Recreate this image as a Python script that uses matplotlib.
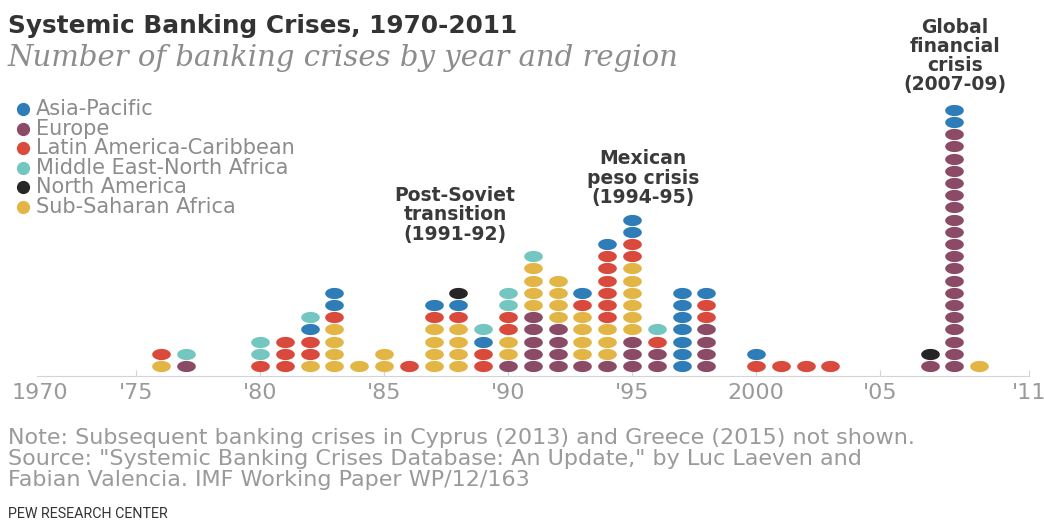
import matplotlib
matplotlib.use("Agg")
import matplotlib.pyplot as plt
import numpy as np
from matplotlib.lines import Line2D

# crises per year and region, 1970 .. 2011
years = list(range(1970, 2012))

asia_pacific = [0, 0, 0, 0, 0, 0, 0, 0, 0, 0,
                0, 0, 1, 2, 0, 0, 0, 1, 1, 1,
                0, 0, 0, 1, 1, 2, 0, 7, 1, 0,
                1, 0, 0, 0, 0, 0, 0, 0, 2, 0,
                0, 0]
europe = [0, 0, 0, 0, 0, 0, 0, 1, 0, 0,
          0, 0, 0, 0, 0, 0, 0, 0, 0, 0,
          1, 5, 4, 1, 1, 3, 2, 0, 4, 0,
          0, 0, 0, 0, 0, 0, 0, 1, 20, 0,
          0, 0]
latin_america = [0, 0, 0, 0, 0, 0, 1, 0, 0, 0,
                 1, 3, 2, 1, 0, 0, 1, 1, 1, 2,
                 2, 0, 0, 1, 6, 2, 1, 0, 2, 0,
                 1, 1, 1, 1, 0, 0, 0, 0, 0, 0,
                 0, 0]
mena = [0, 0, 0, 0, 0, 0, 0, 1, 0, 0,
        2, 0, 1, 0, 0, 0, 0, 0, 0, 1,
        2, 1, 0, 0, 0, 0, 1, 0, 0, 0,
        0, 0, 0, 0, 0, 0, 0, 0, 0, 0,
        0, 0]
north_america = [0, 0, 0, 0, 0, 0, 0, 0, 0, 0,
                 0, 0, 0, 0, 0, 0, 0, 0, 1, 0,
                 0, 0, 0, 0, 0, 0, 0, 0, 0, 0,
                 0, 0, 0, 0, 0, 0, 0, 1, 0, 0,
                 0, 0]
sub_saharan = [0, 0, 0, 0, 0, 0, 1, 0, 0, 0,
               0, 0, 1, 4, 1, 2, 0, 4, 4, 0,
               2, 4, 4, 4, 3, 6, 0, 0, 0, 0,
               0, 0, 0, 0, 0, 0, 0, 0, 0, 1,
               0, 0]

legend_names = ["Asia-Pacific", "Europe", "Latin America-Caribbean",
                "Middle East-North Africa", "North America",
                "Sub-Saharan Africa"]
legend_counts = [asia_pacific, europe, latin_america, mena,
                 north_america, sub_saharan]
colors = ["#2e7db8", "#8b4b66", "#d94a3d", "#74c7c0", "#262626", "#e2b545"]

# bottom-to-top order of the dots inside a column
stack_order = [1, 5, 2, 0, 3, 4]

tick_years = [1970, 1975, 1980, 1985, 1990, 1995, 2000, 2005, 2011]
tick_labels = ["1970", "'75", "'80", "'85", "'90", "'95", "2000", "'05", "'11"]

annotations = [
    ("Post-Soviet\ntransition\n(1991-92)", 455, 215),
    ("Mexican\npeso crisis\n(1994-95)", 643, 178),
    ("Global\nfinancial\ncrisis\n(2007-09)", 955, 56),
]

W, H = 1044, 523


def fx(px):
    return px / W


def fy(py):
    return 1 - py / H


fig = plt.figure(figsize=(W / 100, H / 100), dpi=100)
fig.patch.set_facecolor("white")

base_px = 376
ax = fig.add_axes([0, fy(base_px), 1, base_px / H])
ax.set_xlim(1980 - 260 / 24.8, 1980 + (W - 260) / 24.8)
ax.set_ylim(-10 / 12.2, (base_px - 10) / 12.2)

t = np.linspace(0, 2 * np.pi, 60)
dot = np.column_stack([np.cos(t), 0.6 * np.sin(t)])

base = np.zeros(len(years), dtype=int)
for i in stack_order:
    counts = legend_counts[i]
    xs, ys = [], []
    for yr, b, c in zip(years, base, counts):
        for k in range(c):
            xs.append(yr)
            ys.append(b + k)
    ax.scatter(xs, ys, marker=dot, s=180, color=colors[i], linewidths=0,
               zorder=3)
    base += np.array(counts)

for side in ["top", "right", "left"]:
    ax.spines[side].set_visible(False)
ax.spines["bottom"].set_color("#d4d4d4")
ax.spines["bottom"].set_bounds(1971, 2011)
ax.set_yticks([])
ax.set_xticks(tick_years, tick_labels)
ax.tick_params(axis="x", direction="in", length=4, color="#d4d4d4",
               labelcolor="#9a9a9a", labelsize=16, pad=5)
ax.xaxis.get_major_ticks()[0].tick1line.set_visible(False)
ax.get_xticklabels()[0].set_horizontalalignment("left")
ax.patch.set_visible(False)

# title block
fig.text(fx(8), fy(33), "Systemic Banking Crises, 1970-2011",
         fontsize=17.8, fontweight="bold", color="#333333", va="baseline")
fig.text(fx(8), fy(66), "Number of banking crises by year and region",
         family="DejaVu Serif", style="italic", fontsize=21,
         color="#8c8c8c", va="baseline")

# legend
for i, name in enumerate(legend_names):
    y = 109 + i * 19.6
    fig.add_artist(Line2D([fx(23)], [fy(y)], marker="o", markersize=8.5,
                          color=colors[i], ls="none",
                          transform=fig.transFigure))
    fig.text(fx(36), fy(y + 6), name, fontsize=15, color="#8c8c8c",
             va="baseline")

for txt, x, y in annotations:
    fig.text(fx(x), fy(y), txt, fontsize=13.5, fontweight="bold",
             color="#3a3a3a", ha="center", va="center", linespacing=1.02)

notes = ["Note: Subsequent banking crises in Cyprus (2013) and Greece (2015) not shown.",
         "Source: \"Systemic Banking Crises Database: An Update,\" by Luc Laeven and",
         "Fabian Valencia. IMF Working Paper WP/12/163"]
for i, line in enumerate(notes):
    fig.text(fx(8), fy(444 + i * 21), line, fontsize=16, color="#9a9a9a",
             va="baseline")

fig.text(fx(8), fy(518), "PEW RESEARCH CENTER", family="Roboto",
         fontsize=10.3, color="#333333", va="baseline")

fig.savefig("out.png", dpi=100)
